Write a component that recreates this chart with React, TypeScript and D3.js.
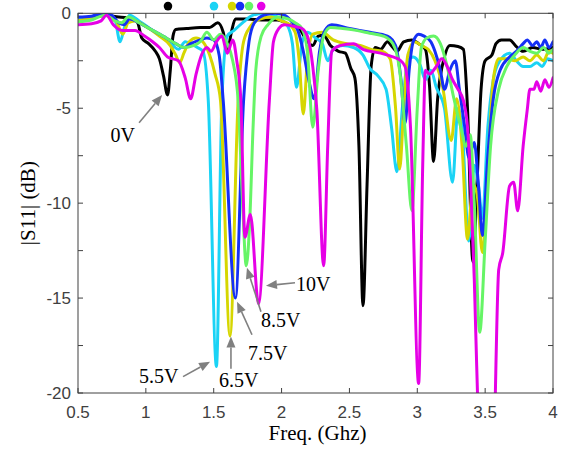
import React from 'react';
import * as d3 from 'd3';

type P = [number, number];

const xTicks = [0.5, 1, 1.5, 2, 2.5, 3, 3.5, 4];
const xTickLabels = ['0.5', '1', '1.5', '2', '2.5', '3', '3.5', '4'];
const yTicks = [0, -2.5, -5, -7.5, -10, -12.5, -15, -17.5, -20];
const yLabelTicks = [0, -5, -10, -15, -20];
const yTickLabels = ['0', '-5', '-10', '-15', '-20'];

const black: P[] = [[0.5,-0.4],[0.6,-0.25],[0.7,-0.1],[0.8,-0.2],[0.9,-0.25],[0.94,-0.5],[0.97,-1.3],[1.02,-1.6],[1.07,-2.0],[1.1,-2.4],[1.13,-3.3],[1.16,-4.3],[1.18,-3.0],[1.2,-1.2],[1.22,-0.85],[1.3,-0.8],[1.4,-0.75],[1.47,-0.75],[1.53,-0.5],[1.57,-1.0],[1.6,-2.0],[1.63,-1.0],[1.66,-0.3],[1.75,-0.3],[1.85,-0.35],[1.97,-0.35],[2.06,-0.6],[2.13,-0.8],[2.19,-1.5],[2.23,-1.7],[2.27,-1.2],[2.31,-1.15],[2.36,-1.7],[2.42,-2.0],[2.47,-2.1],[2.51,-2.9],[2.54,-3.4],[2.57,-7],[2.6,-15.4],[2.63,-9],[2.66,-2.8],[2.69,-1.8],[2.73,-1.9],[2.78,-1.5],[2.82,-1.8],[2.85,-2.0],[2.9,-1.5],[2.96,-1.4],[3.01,-1.6],[3.06,-1.9],[3.09,-3.8],[3.12,-7.8],[3.15,-4.5],[3.2,-2.3],[3.24,-1.7],[3.3,-1.75],[3.34,-1.9],[3.37,-5],[3.41,-13.1],[3.44,-9],[3.47,-4],[3.5,-2.5],[3.55,-2.2],[3.58,-1.6],[3.62,-1.4],[3.68,-1.4],[3.73,-1.75],[3.78,-2.0],[3.85,-1.8],[3.92,-1.9],[4.0,-1.8]];

const cyan: P[] = [[0.5,-0.3],[0.6,-0.2],[0.7,-0.1],[0.77,-0.3],[0.81,-1.5],[0.84,-0.8],[0.88,-0.1],[0.95,-0.4],[1.05,-0.9],[1.15,-1.4],[1.2,-1.7],[1.24,-1.9],[1.29,-1.5],[1.33,-1.6],[1.38,-1.8],[1.42,-2.0],[1.46,-4.6],[1.52,-18.6],[1.56,-4.6],[1.6,-1.2],[1.65,-0.9],[1.72,-0.45],[1.79,-0.1],[1.87,0],[1.97,-0.2],[2.04,-0.6],[2.08,-1.6],[2.11,-3.9],[2.15,-1.6],[2.19,-1.0],[2.25,-1.3],[2.3,-1.6],[2.34,-2.5],[2.38,-1.9],[2.45,-1.7],[2.53,-1.8],[2.6,-2.2],[2.65,-2.9],[2.71,-3.3],[2.77,-4.0],[2.81,-6],[2.85,-8.35],[2.89,-5],[2.93,-2.5],[2.97,-2.3],[3.02,-2.7],[3.06,-3.5],[3.1,-3.0],[3.14,-3.9],[3.2,-5],[3.26,-8.9],[3.3,-5],[3.33,-6],[3.38,-12],[3.42,-8],[3.45,-9],[3.48,-10.8],[3.52,-6],[3.56,-3.5],[3.6,-2.6],[3.68,-2.1],[3.73,-2.5],[3.78,-2.8],[3.83,-2.8],[3.88,-2.6],[3.92,-2.8],[3.96,-2.4],[4.0,-2.5]];

const yellow: P[] = [[0.5,-0.4],[0.6,-0.25],[0.7,-0.1],[0.78,-0.4],[0.83,-1.1],[0.87,-0.5],[0.92,-0.4],[1.0,-0.7],[1.1,-1.2],[1.18,-1.7],[1.22,-2.2],[1.25,-2.6],[1.28,-2.1],[1.32,-1.5],[1.37,-1.3],[1.42,-1.5],[1.47,-2.2],[1.51,-3.2],[1.55,-4.6],[1.62,-17.0],[1.68,-4.6],[1.72,-1.5],[1.77,-0.7],[1.84,-0.3],[1.92,-0.2],[2.0,-0.4],[2.06,-0.6],[2.1,-1.0],[2.13,-2.5],[2.16,-5.3],[2.19,-2.5],[2.23,-1.1],[2.3,-1.0],[2.38,-1.4],[2.48,-1.6],[2.58,-1.7],[2.66,-1.9],[2.74,-2.0],[2.8,-2.4],[2.84,-5],[2.87,-8.2],[2.9,-5],[2.93,-2.2],[2.98,-1.5],[3.03,-1.7],[3.08,-1.9],[3.13,-2.5],[3.19,-4],[3.25,-6.7],[3.29,-4.5],[3.33,-7],[3.37,-11.9],[3.41,-9],[3.44,-9.5],[3.48,-12.6],[3.52,-8],[3.56,-3.5],[3.6,-2.4],[3.66,-2.4],[3.72,-2.5],[3.78,-2.3],[3.83,-2.5],[3.88,-2.2],[3.93,-2.5],[3.97,-2.0],[4.0,-2.1]];

const blue: P[] = [[0.5,-0.2],[0.6,-0.15],[0.7,0],[0.75,-0.1],[0.8,-0.5],[0.84,-0.6],[0.88,-0.3],[0.95,-0.5],[1.05,-0.9],[1.15,-1.3],[1.22,-1.6],[1.28,-1.8],[1.33,-1.6],[1.4,-1.4],[1.45,-1.3],[1.5,-1.4],[1.54,-2.2],[1.57,-4.6],[1.66,-15.0],[1.72,-4.6],[1.76,-1.5],[1.8,-0.5],[1.87,-0.1],[1.95,0],[2.02,-0.1],[2.07,-0.4],[2.12,-0.9],[2.16,-2],[2.2,-3.5],[2.24,-4.5],[2.28,-2],[2.32,-0.9],[2.37,-0.6],[2.5,-0.8],[2.65,-1.0],[2.78,-1.2],[2.84,-1.7],[2.88,-3.5],[2.91,-5.8],[2.94,-3],[2.97,-1.5],[3.01,-1.1],[3.05,-1.2],[3.1,-1.5],[3.13,-2.0],[3.17,-3],[3.2,-4],[3.24,-3],[3.28,-2.5],[3.31,-4],[3.35,-6],[3.38,-7.6],[3.42,-6.8],[3.45,-9],[3.48,-11.7],[3.52,-7.5],[3.56,-4.5],[3.61,-3.0],[3.68,-2.3],[3.73,-2.0],[3.78,-1.6],[3.81,-1.4],[3.85,-1.7],[3.88,-1.5],[3.91,-1.8],[3.94,-1.4],[3.97,-1.8],[4.0,-1.5]];

const green: P[] = [[0.5,-0.45],[0.6,-0.35],[0.7,-0.1],[0.77,-0.4],[0.82,-0.5],[0.87,-0.2],[0.95,-0.5],[1.05,-0.9],[1.15,-1.3],[1.22,-1.6],[1.28,-1.8],[1.35,-1.7],[1.4,-1.5],[1.45,-1.0],[1.5,-1.4],[1.55,-1.1],[1.6,-1.6],[1.64,-2.5],[1.68,-4.6],[1.71,-9.5],[1.74,-13.3],[1.765,-11],[1.79,-6],[1.81,-3],[1.85,-1.2],[1.9,-0.6],[1.97,-0.2],[2.05,-0.3],[2.1,-0.5],[2.15,-0.8],[2.19,-2.0],[2.23,-6.0],[2.27,-3],[2.31,-1.2],[2.36,-0.75],[2.45,-0.8],[2.55,-0.9],[2.65,-1.05],[2.75,-1.2],[2.82,-1.6],[2.87,-3],[2.92,-7],[2.96,-10.4],[3.0,-5],[3.03,-1.8],[3.07,-1.3],[3.12,-1.2],[3.17,-1.6],[3.22,-2.8],[3.27,-4.5],[3.32,-6],[3.36,-7],[3.39,-6.4],[3.42,-10],[3.46,-16.8],[3.5,-12],[3.54,-7],[3.6,-4],[3.66,-2.8],[3.73,-2.1],[3.78,-1.8],[3.83,-2.0],[3.88,-2.1],[3.93,-1.8],[3.97,-2.1],[4.0,-1.9]];

const magenta: P[] = [[0.5,-0.6],[0.6,-0.55],[0.67,-0.4],[0.71,-0.1],[0.76,-0.6],[0.83,-0.9],[0.92,-0.9],[0.99,-1.2],[1.05,-1.5],[1.1,-1.8],[1.16,-2.3],[1.24,-2.5],[1.29,-3.4],[1.33,-4.5],[1.37,-3.2],[1.41,-2.2],[1.45,-1.8],[1.48,-2.0],[1.52,-1.5],[1.56,-1.2],[1.6,-2.1],[1.64,-1.4],[1.67,-2.5],[1.7,-4.6],[1.73,-11.8],[1.77,-10.6],[1.83,-15.3],[1.91,-4.6],[1.94,-1.5],[1.98,-0.8],[2.02,-0.6],[2.1,-0.7],[2.15,-0.8],[2.19,-1.2],[2.23,-2.8],[2.26,-5.1],[2.31,-13.3],[2.34,-7],[2.37,-2.0],[2.43,-1.7],[2.53,-1.6],[2.6,-1.9],[2.73,-2.1],[2.82,-2.3],[2.87,-2.45],[2.91,-2.8],[2.95,-6],[3.01,-19.5],[3.04,-8],[3.06,-3],[3.09,-3.2],[3.14,-2.8],[3.18,-2.4],[3.22,-2.8],[3.26,-3.5],[3.3,-4],[3.34,-4.6],[3.37,-6],[3.39,-8.4],[3.42,-14],[3.46,-24],[3.5,-28],[3.56,-24],[3.6,-13.5],[3.63,-12.6],[3.68,-9.1],[3.71,-8.9],[3.74,-10.4],[3.78,-7],[3.81,-5.1],[3.83,-4.0],[3.86,-4.0],[3.88,-3.6],[3.91,-4.1],[3.94,-3.5],[3.97,-3.9],[4.0,-3.4]];

const seriesNames = ['0V', '5.5V', '6.5V', '7.5V', '8.5V', '10V'];
const seriesColors = ['#000000', '#1ad3f5', '#d6d600', '#1530f5', '#66f566', '#e600e6'];
const seriesData = [black, cyan, yellow, blue, green, magenta];
const dotX = [1.163, 1.502, 1.635, 1.694, 1.76, 1.85];
const dotY = 0.38;

// annotation: label, text anchor point, arrow tail, arrow head (data units)
const annLabels = ['0V', '5.5V', '6.5V', '7.5V', '8.5V', '10V'];
const annText: P[] = [[0.74, -6.77], [0.95, -19.45], [1.539, -19.67], [1.753, -18.25], [1.848, -16.51], [2.106, -14.62]];
const annTail: P[] = [[0.95, -5.77], [1.274, -19.14], [1.627, -18.72], [1.782, -16.93], [1.848, -15.72], [2.099, -14.19]];
const annHead: P[] = [[1.12, -4.3], [1.473, -18.35], [1.627, -17.03], [1.672, -15.2], [1.745, -13.4], [1.885, -14.35]];

const W = 567, H = 457;
const L = 78, R = 553, T = 13.3, B = 393;

export default function App() {
  const x = d3.scaleLinear().domain([0.5, 4]).range([L, R]);
  const y = d3.scaleLinear().domain([-20, 0]).range([B, T]);
  const line = d3.line<P>().x(d => x(d[0])).y(d => y(d[1])).curve(d3.curveMonotoneX);
  const tickFont = '"Liberation Sans", Arial, sans-serif';
  const serif = '"Liberation Serif", "Times New Roman", serif';
  const axisColor = '#404040';
  const tl = 5;

  const arrow = (i: number) => {
    const [tx, ty] = [x(annTail[i][0]), y(annTail[i][1])];
    const [hx, hy] = [x(annHead[i][0]), y(annHead[i][1])];
    const ang = Math.atan2(hy - ty, hx - tx);
    const hl = 11, hw = 4.5;
    const bx = hx - hl * Math.cos(ang), by = hy - hl * Math.sin(ang);
    const px = -Math.sin(ang) * hw, py = Math.cos(ang) * hw;
    return (
      <g key={'a' + i}>
        <line x1={tx} y1={ty} x2={bx} y2={by} stroke="#808080" strokeWidth={1.6} />
        <polygon points={`${hx},${hy} ${bx + px},${by + py} ${bx - px},${by - py}`} fill="#808080" />
      </g>
    );
  };

  return (
    <svg width={W} height={H} style={{ position: 'absolute', left: 0, top: 0, background: '#fff' }}>
      <defs>
        <clipPath id="plotclip">
          <rect x={L} y={T} width={R - L} height={B - T} />
        </clipPath>
      </defs>
      <rect x={0} y={0} width={W} height={H} fill="#fff" />
      <g clipPath="url(#plotclip)">
        {seriesData.map((d, i) => (
          <path key={seriesNames[i]} d={line(d) || ''} fill="none" stroke={seriesColors[i]} strokeWidth={3} strokeLinejoin="round" strokeLinecap="round" />
        ))}
      </g>
      {dotX.map((dx, i) => (
        <circle key={'d' + i} cx={x(dx)} cy={y(dotY)} r={4.3} fill={seriesColors[i]} />
      ))}
      <rect x={L} y={T} width={R - L} height={B - T} fill="none" stroke={axisColor} strokeWidth={1} />
      {xTicks.map(t => (
        <g key={'xt' + t}>
          <line x1={x(t)} x2={x(t)} y1={B} y2={B - tl} stroke={axisColor} />
          <line x1={x(t)} x2={x(t)} y1={T} y2={T + tl} stroke={axisColor} />
        </g>
      ))}
      {yTicks.map(t => (
        <g key={'yt' + t}>
          <line x1={L} x2={L + tl} y1={y(t)} y2={y(t)} stroke={axisColor} />
          <line x1={R} x2={R - tl} y1={y(t)} y2={y(t)} stroke={axisColor} />
        </g>
      ))}
      {xTicks.map((t, i) => (
        <text key={'xl' + t} x={x(t)} y={B + 25} textAnchor="middle" fontFamily={tickFont} fontSize={17} fill={axisColor}>{xTickLabels[i]}</text>
      ))}
      {yLabelTicks.map((t, i) => (
        <text key={'yl' + t} x={L - 7} y={y(t) + 6} textAnchor="end" fontFamily={tickFont} fontSize={17} fill={axisColor}>{yTickLabels[i]}</text>
      ))}
      <text x={(L + R) / 2 + 2} y={440} textAnchor="middle" fontFamily={serif} fontSize={21} fill="#000">Freq. (Ghz)</text>
      <text transform={`translate(35,${(T + B) / 2}) rotate(-90)`} textAnchor="middle" fontFamily={serif} fontSize={21} fill="#000">|S11| (dB)</text>
      {annLabels.map((_, i) => arrow(i))}
      {annLabels.map((lab, i) => (
        <text key={'t' + i} x={x(annText[i][0])} y={y(annText[i][1])} fontFamily={serif} fontSize={20} fill="#000">{lab}</text>
      ))}
    </svg>
  );
}
